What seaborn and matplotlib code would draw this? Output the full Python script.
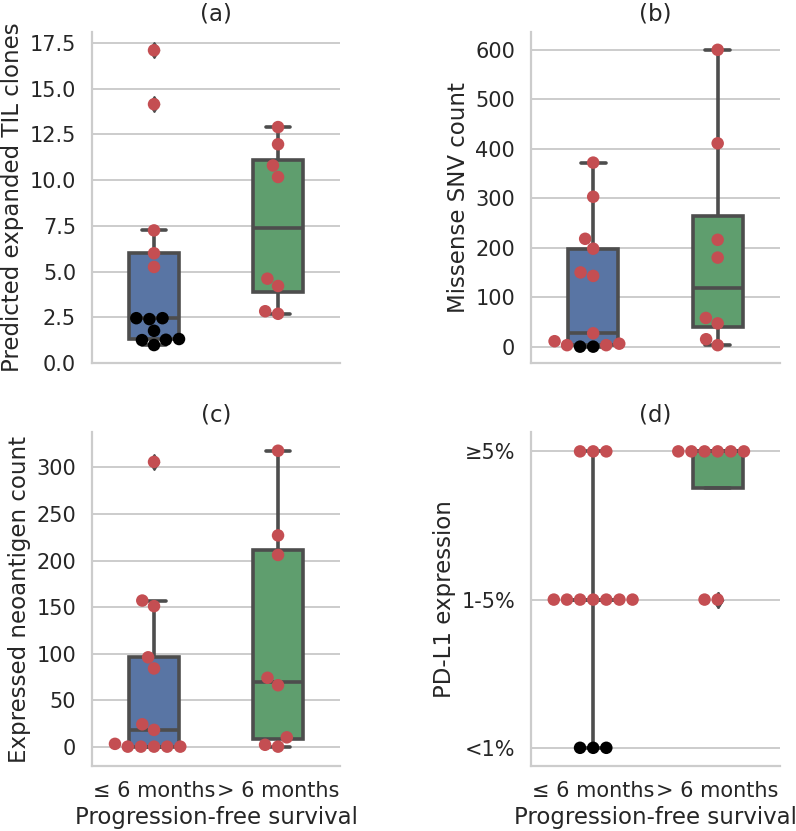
import numpy as np
import pandas as pd
import matplotlib
matplotlib.use("Agg")
import matplotlib.pyplot as plt
from matplotlib.ticker import MultipleLocator, FormatStrFormatter
import seaborn as sns

# ---------------- data ----------------
groups = ["≤ 6 months", "> 6 months"]

til_short = [17.1, 14.15, 7.25, 6.0, 5.25, 2.45, 2.4, 2.45, 1.76, 1.27, 1.25, 1.31, 0.98]
til_short_col = ["r", "r", "r", "r", "r", "k", "k", "k", "k", "k", "k", "k", "k"]
til_long = [12.9, 11.96, 10.8, 10.17, 4.61, 4.21, 2.83, 2.69]
til_long_col = ["r"] * 8

snv_short = [372, 303, 218, 198, 150, 143, 27, 11, 6, 3, 3, 0, 0]
snv_short_col = ["r"] * 11 + ["k", "k"]
snv_long = [600, 411, 216, 180, 58, 47, 15, 3]
snv_long_col = ["r"] * 8

neo_short = [306, 157, 151, 96, 84, 24, 18, 3, 0, 0, 0, 0, 0]
neo_short_col = ["r"] * 13
neo_long = [318, 227, 206, 74, 66, 10, 2, 0]
neo_long_col = ["r"] * 8

pdl1_short = [2, 2, 2, 1, 1, 1, 1, 1, 1, 1, 0, 0, 0]
pdl1_short_col = ["r"] * 10 + ["k"] * 3
pdl1_long = [2, 2, 2, 2, 2, 2, 1, 1]
pdl1_long_col = ["r"] * 8
pdl1_ticklabels = ["<1%", "1-5%", "≥5%"]

titles = ["(a)", "(b)", "(c)", "(d)"]
ylabels = ["Predicted expanded TIL clones", "Missense SNV count",
           "Expressed neoantigen count", "PD-L1 expression"]
xlabel = "Progression-free survival"

# ---------------- style ----------------
sns.set_theme(style="whitegrid")
plt.rcParams["font.family"] = ["DejaVu Sans"]
plt.rcParams.update({
    "axes.edgecolor": ".8",
    "axes.linewidth": 1.6,
    "grid.color": ".8",
    "grid.linewidth": 1.4,
    "ytick.major.pad": 5.5,
    "xtick.major.pad": 5,
    "xtick.labelsize": 15,
    "ytick.labelsize": 15,
    "axes.labelsize": 16.5,
    "axes.titlesize": 16.5,
})

deep = sns.color_palette("deep")
box_pal = {groups[0]: deep[0], groups[1]: deep[2]}
pt_pal = {"r": deep[3], "k": "black"}
line_col = "#4d4d4d"

fig = plt.figure(figsize=(7.96, 8.31), dpi=100)
positions = [
    [0.1156, 0.5632, 0.3116, 0.3983],
    [0.667, 0.5632, 0.3128, 0.3983],
    [0.1156, 0.078, 0.3116, 0.402],
    [0.667, 0.078, 0.3128, 0.402],
]
axes = [fig.add_axes(p) for p in positions]


def panel(ax, short, long, short_col, long_col, whis_list):
    df = pd.DataFrame({
        "value": list(short) + list(long),
        "group": [groups[0]] * len(short) + [groups[1]] * len(long),
        "col": list(short_col) + list(long_col),
    })
    for g, w in zip(groups, whis_list):
        sub = df[df["group"] == g]
        sns.boxplot(data=sub, x="group", y="value", order=groups,
                    hue="group", hue_order=groups, palette=box_pal,
                    width=0.4, whis=w, linewidth=2.6, linecolor=line_col,
                    flierprops={"marker": "d", "markersize": 8,
                                "markerfacecolor": line_col,
                                "markeredgecolor": line_col},
                    legend=False, ax=ax)
    sns.swarmplot(data=df, x="group", y="value", order=groups,
                  hue="col", palette=pt_pal, size=9, legend=False, ax=ax)


panel(axes[0], til_short, til_long, til_short_col, til_long_col, [1.5, 1.5])
panel(axes[1], snv_short, snv_long, snv_short_col, snv_long_col, [1.5, 1.5])
panel(axes[2], neo_short, neo_long, neo_short_col, neo_long_col, [1.5, 1.5])
panel(axes[3], pdl1_short, pdl1_long, pdl1_short_col, pdl1_long_col, [(0, 100), 1.5])

ylims = [(0, 18.1), (-33, 636), (-21, 338), (-0.124, 2.13)]
for i, ax in enumerate(axes):
    ax.set_ylim(*ylims[i])
    ax.set_xlim(-0.5, 1.5)
    ax.set_title(titles[i], pad=8)
    ax.set_ylabel(ylabels[i])
    ax.grid(False, axis="x")
    sns.despine(ax=ax)
    if i < 2:
        ax.set_xlabel("")
        ax.tick_params(axis="x", labelbottom=False)
    else:
        ax.set_xlabel(xlabel, labelpad=3)

axes[0].yaxis.set_major_locator(MultipleLocator(2.5))
axes[0].yaxis.set_major_formatter(FormatStrFormatter("%.1f"))
axes[3].set_yticks([0, 1, 2])
axes[3].set_yticklabels(pdl1_ticklabels)

fig.savefig("out.png", dpi=100)
